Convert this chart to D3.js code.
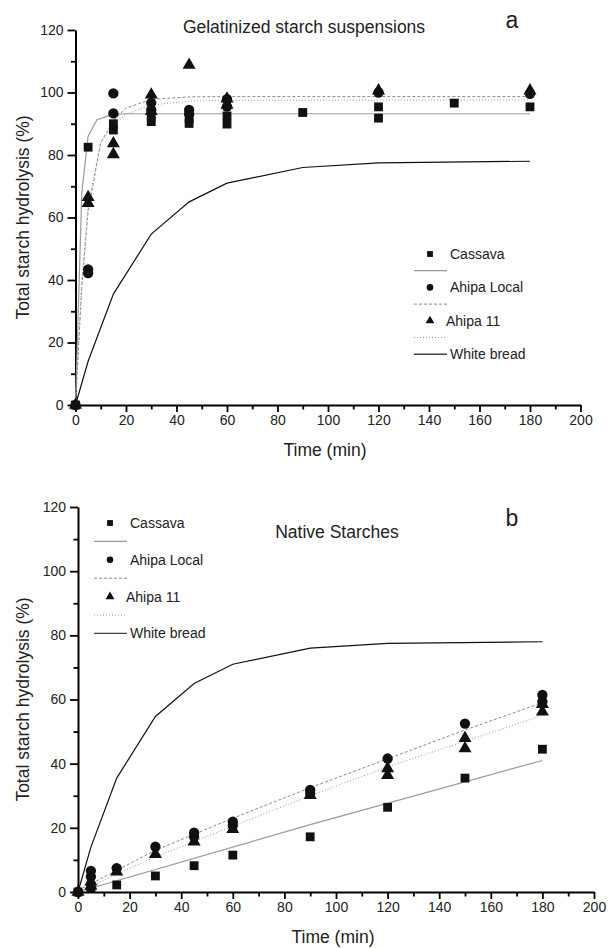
<!DOCTYPE html>
<html>
<head>
<meta charset="utf-8">
<script src="https://cdn.jsdelivr.net/npm/d3@7"></script>
<style>
  body { margin: 0; background: #fff; }
  svg text { font-family: "Liberation Sans", Arial, sans-serif; fill: #222; }
</style>
</head>
<body>
<div id="chart"></div>
<script>
// ---- data: [time (min), hydrolysis (%)] ----
const seriesNames = ['Cassava', 'Ahipa Local', 'Ahipa 11', 'White bread'];
const xTicks = [0, 20, 40, 60, 80, 100, 120, 140, 160, 180, 200];
const yTicks = [0, 20, 40, 60, 80, 100, 120];

const whiteBread = [[0, 0], [5, 14], [15, 35.5], [30, 54.7], [45, 65], [60, 71], [90, 76], [120, 77.5], [180, 78]];

// panel a - gelatinized
const gelCassavaPts = [[0, 0], [5, 82.5], [15, 88], [15, 90], [30, 90.7], [30, 92.3], [45, 90.1], [45, 91.7],
  [60, 89.9], [60, 92.5], [90, 93.6], [120, 91.8], [120, 95.4], [150, 96.6], [180, 95.4]];
const gelLocalPts = [[0, 0], [5, 42.2], [5, 43.4], [15, 93.3], [15, 99.7], [30, 94.4], [30, 96.7], [45, 93.1], [45, 94.4],
  [60, 95.5], [60, 97.9], [120, 100], [180, 99.6]];
const gel11Pts = [[0, 0], [5, 64.6], [5, 66.5], [15, 80.2], [15, 83.7], [30, 94], [30, 99.3], [45, 108.8],
  [60, 96], [60, 98], [120, 100.6], [180, 100.6]];
const gelCassavaFit = [[0, 0], [2.5, 68], [5, 86], [8.5, 91.3], [15, 93], [20, 93.2], [180, 93.2]];
const gelLocalFit = [[0, 0], [2.5, 38], [5, 62], [10, 84], [15, 91], [20, 95], [30, 97.8], [45, 98.6], [60, 98.7], [180, 98.7]];
const gel11Fit = [[0, 0], [2.5, 40], [5, 64], [10, 84], [15, 89.5], [20, 93], [30, 96], [45, 97.2], [60, 97.5], [180, 97.6]];

// panel b - native
const natCassavaPts = [[0, 0], [5, 1.2], [5, 1.8], [15, 2.2], [30, 5], [45, 8.2], [60, 11.5], [90, 17.2],
  [120, 26.4], [150, 35.5], [180, 44.5]];
const natLocalPts = [[0, 0], [5, 4.8], [5, 6.6], [15, 7.4], [30, 14.1], [45, 17.2], [45, 18.5], [60, 20.7], [60, 21.9],
  [90, 30.7], [90, 31.8], [120, 41.6], [150, 52.5], [180, 59.3], [180, 61.4]];
const nat11Pts = [[0, 0], [5, 1.9], [5, 3.2], [15, 6.3], [30, 11.8], [45, 15.7], [60, 19.6], [90, 30.2],
  [120, 36.4], [120, 38.5], [150, 44.7], [150, 47.9], [180, 56.2], [180, 58.5]];
const natCassavaFit = [[0, 0], [90, 21], [180, 41]];
const natLocalFit = [[0, 0.5], [30, 13], [60, 23], [90, 32.5], [120, 41.5], [150, 50.5], [180, 59]];
const nat11Fit = [[0, 0], [30, 11], [60, 20.5], [90, 30], [120, 39], [150, 47], [180, 55]];

const svg = d3.select('#chart').append('svg')
  .attr('width', 608)
  .attr('height', 948);

const symbols = [d3.symbolSquare, d3.symbolCircle, d3.symbolTriangle];
const symSize = [78, 84, 74];
const fitStyle = [
  { stroke: '#9a9a9a', dash: null, width: 1.2 },
  { stroke: '#8c8c8c', dash: '3,2', width: 1 },
  { stroke: '#9a9a9a', dash: '1,2', width: 1 },
  { stroke: '#111', dash: null, width: 1.2 }
];

function drawPanel(p) {
  const x = d3.scaleLinear().domain([0, 200]).range(p.xr);
  const y = d3.scaleLinear().domain([0, 120]).range(p.yr);
  const g = svg.append('g');

  // minor ticks
  g.append('g')
    .attr('transform', `translate(0,${p.yr[0]})`)
    .call(d3.axisBottom(x).tickValues(d3.range(10, 200, 20)).tickSize(4.5).tickFormat(''))
    .call(a => a.select('.domain').remove());
  g.append('g')
    .attr('transform', `translate(${p.xr[0]},0)`)
    .call(d3.axisLeft(y).tickValues(d3.range(10, 120, 20)).tickSize(4.5).tickFormat(''))
    .call(a => a.select('.domain').remove());

  // major axes
  const xa = g.append('g')
    .attr('transform', `translate(0,${p.yr[0]})`)
    .call(d3.axisBottom(x).tickValues(xTicks).tickSize(7).tickSizeOuter(0).tickPadding(3));
  const ya = g.append('g')
    .attr('transform', `translate(${p.xr[0]},0)`)
    .call(d3.axisLeft(y).tickValues(yTicks).tickSize(8).tickSizeOuter(0).tickPadding(4));
  [xa, ya].forEach(a => {
    a.selectAll('text').style('font-size', '14px').style('fill', '#222');
    a.select('.domain').attr('stroke-width', 2);
  });
  g.selectAll('.tick line').attr('stroke-width', 1.8);

  // fitted lines
  const line = d3.line().x(d => x(d[0])).y(d => y(d[1]));
  p.fits.forEach((f, i) => {
    g.append('path')
      .datum(f)
      .attr('d', line)
      .attr('fill', 'none')
      .attr('stroke', fitStyle[i].stroke)
      .attr('stroke-width', fitStyle[i].width)
      .attr('stroke-dasharray', fitStyle[i].dash);
  });

  // measured points
  p.points.forEach((pts, i) => {
    g.selectAll(null)
      .data(pts)
      .enter()
      .append('path')
      .attr('d', d3.symbol().type(symbols[i]).size(symSize[i]))
      .attr('transform', d => `translate(${x(d[0])},${y(d[1])})`)
      .attr('fill', '#111');
  });

  // titles
  g.append('text')
    .attr('x', p.title.x).attr('y', p.title.y)
    .attr('text-anchor', 'middle')
    .style('font-size', '17.5px')
    .text(p.title.text);
  g.append('text')
    .attr('x', p.letter.x).attr('y', p.letter.y)
    .attr('text-anchor', 'middle')
    .style('font-size', '23px')
    .text(p.letter.text);

  g.append('text')
    .attr('x', (p.xr[0] + p.xr[1]) / 2 - 3)
    .attr('y', p.yr[0] + 51)
    .attr('text-anchor', 'middle')
    .style('font-size', '17.5px')
    .text('Time (min)');
  g.append('text')
    .attr('transform', `translate(29,${(p.yr[0] + p.yr[1]) / 2}) rotate(-90)`)
    .attr('text-anchor', 'middle')
    .style('font-size', '17.5px')
    .text('Total starch hydrolysis (%)');

  // legend
  const lg = g.append('g').attr('transform', `translate(${p.legend.x},${p.legend.y})`);
  const step = p.legend.step;
  seriesNames.forEach((name, i) => {
    const ty = i * 2 * step;
    if (i < 3) {
      lg.append('path')
        .attr('d', d3.symbol().type(symbols[i]).size(34))
        .attr('transform', `translate(16,${ty})`)
        .attr('fill', '#111');
      lg.append('text')
        .attr('x', i === 2 ? 32 : 36).attr('y', ty + 5)
        .style('font-size', '14px')
        .text(name);
      lg.append('line')
        .attr('x1', 0).attr('x2', 33)
        .attr('y1', ty + step).attr('y2', ty + step)
        .attr('stroke', fitStyle[i].stroke)
        .attr('stroke-width', fitStyle[i].width)
        .attr('stroke-dasharray', fitStyle[i].dash);
    } else {
      lg.append('line')
        .attr('x1', 0).attr('x2', 33)
        .attr('y1', ty).attr('y2', ty)
        .attr('stroke', '#444')
        .attr('stroke-width', 1.4);
      lg.append('text')
        .attr('x', 36).attr('y', ty + 5)
        .style('font-size', '14px')
        .text(name);
    }
  });
}

drawPanel({
  xr: [75.5, 580.5], yr: [405, 30],
  points: [gelCassavaPts, gelLocalPts, gel11Pts],
  fits: [gelCassavaFit, gelLocalFit, gel11Fit, whiteBread],
  title: { text: 'Gelatinized starch suspensions', x: 304, y: 33 },
  letter: { text: 'a', x: 512, y: 28 },
  legend: { x: 414, y: 254, step: 16.7 }
});

drawPanel({
  xr: [78, 594], yr: [892, 507],
  points: [natCassavaPts, natLocalPts, nat11Pts],
  fits: [natCassavaFit, natLocalFit, nat11Fit, whiteBread],
  title: { text: 'Native Starches', x: 337, y: 538 },
  letter: { text: 'b', x: 512, y: 526 },
  legend: { x: 94, y: 523, step: 18.4 }
});
</script>
</body>
</html>
